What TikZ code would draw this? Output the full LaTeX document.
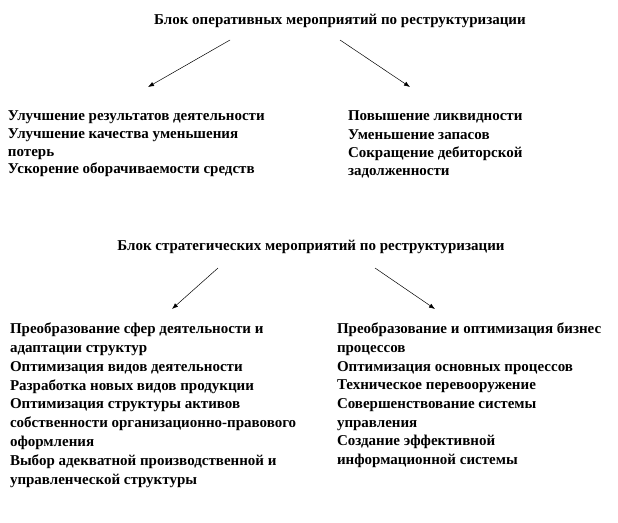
\documentclass[tikz,border=0pt]{standalone}
\usepackage{fontspec}
\setmainfont{Liberation Serif}
\usetikzlibrary{arrows.meta}
\begin{document}
\begin{tikzpicture}[x=1pt,y=-1pt,
  every node/.style={inner sep=0pt,outer sep=0pt,font=\bfseries\fontsize{15}{18}\selectfont},
  title/.style={anchor=center},
  block/.style={anchor=north west,align=left},
  arr/.style={-{Latex[length=6pt,width=4.5pt]},line width=0.5pt}]
\useasboundingbox (0,0) rectangle (618,522);
\node[title] (t1) at (340,21) {Блок оперативных мероприятий по реструктуризации};
\node[block,font=\bfseries\fontsize{15}{17.7}\selectfont] (l1) at (8,111) {Улучшение результатов деятельности\\Улучшение качества уменьшения\\потерь\\Ускорение оборачиваемости средств};
\node[block,font=\bfseries\fontsize{15}{18.2}\selectfont] (r1) at (348,111) {Повышение ликвидности\\Уменьшение запасов\\Сокращение дебиторской\\задолженности};
\coordinate (a1s) at (230,40); \coordinate (a1e) at (148,87);
\coordinate (a2s) at (340,40); \coordinate (a2e) at (410,87);
\draw[arr] (a1s) -- (a1e);
\draw[arr] (a2s) -- (a2e);
\node[title] (t2) at (311,247) {Блок стратегических мероприятий по реструктуризации};
\node[block,font=\bfseries\fontsize{15}{18.8}\selectfont] (l2) at (10,323) {Преобразование сфер деятельности и\\адаптации структур\\Оптимизация видов деятельности\\Разработка новых видов продукции\\Оптимизация структуры активов\\собственности организационно-правового\\оформления\\Выбор адекватной производственной и\\управленческой структуры};
\node[block,font=\bfseries\fontsize{15}{18.7}\selectfont] (r2) at (337,323) {Преобразование и оптимизация бизнес\\процессов\\Оптимизация основных процессов\\Техническое перевооружение\\Совершенствование системы\\управления\\Создание эффективной\\информационной системы};
\coordinate (a3s) at (218,268); \coordinate (a3e) at (172,309);
\coordinate (a4s) at (375,268); \coordinate (a4e) at (435,309);
\draw[arr] (a3s) -- (a3e);
\draw[arr] (a4s) -- (a4e);
\end{tikzpicture}
\end{document}
